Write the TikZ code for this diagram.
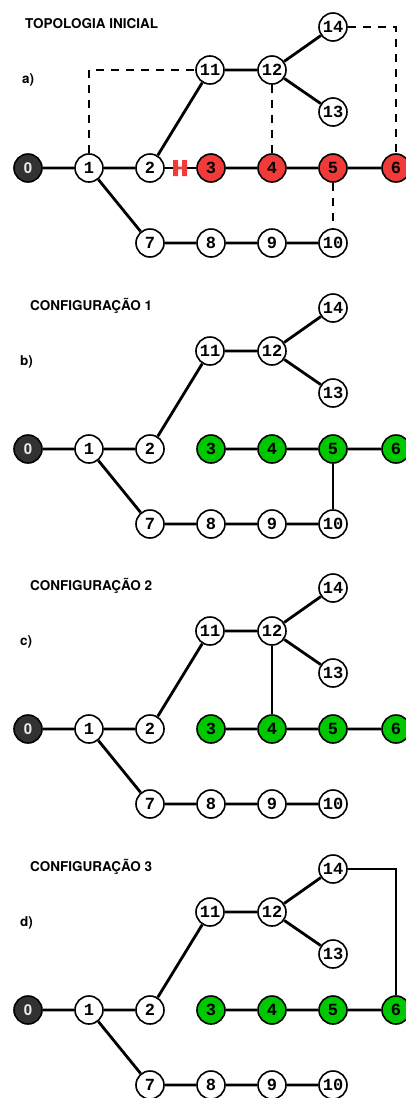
\documentclass[tikz,border=0pt]{standalone}
\usepackage{fontspec}
\setmainfont{TeX Gyre Heros}
\newfontfamily\monofont{Liberation Mono}
\definecolor{redn}{RGB}{243,58,58}
\definecolor{greenn}{RGB}{0,200,0}
\definecolor{darkn}{RGB}{50,50,50}
\tikzset{
  bus/.style={circle,draw=black,line width=1.6pt,minimum size=28pt,inner sep=0pt,fill=white,font=\monofont\bfseries\fontsize{17}{17}\selectfont},
  src/.style={bus,fill=darkn,text=black!8,font=\bfseries\fontsize{15}{15}\selectfont},
  edge/.style={line width=2.8pt},
  tie/.style={line width=2.8pt,dash pattern=on 8pt off 7pt},
  ttl/.style={anchor=west,font=\bfseries\fontsize{13.5}{14}\selectfont,inner sep=0pt},
  lbl/.style={anchor=west,font=\bfseries\fontsize{13.5}{14}\selectfont,inner sep=0pt},
}
\newcommand{\drawpanel}[3]{%
  % #1 prefix, #2 colour of 3-6, #3 y offset
  \begin{scope}[yshift=-#3pt]
  \node[src] (#10) at (28,-168) {0};
  \node[bus] (#11) at (89,-168) {1};
  \node[bus] (#12) at (150,-168) {2};
  \node[bus,fill=#2] (#13) at (211,-168) {3};
  \node[bus,fill=#2] (#14) at (272,-168) {4};
  \node[bus,fill=#2] (#15) at (333,-168) {5};
  \node[bus,fill=#2] (#16) at (396,-168) {6};
  \node[bus] (#111) at (210,-70) {11};
  \node[bus] (#112) at (272,-70) {12};
  \node[bus] (#114) at (333,-27) {14};
  \node[bus] (#113) at (333,-112) {13};
  \node[bus] (#17) at (150,-243) {7};
  \node[bus] (#18) at (211,-243) {8};
  \node[bus] (#19) at (272,-243) {9};
  \node[bus] (#110) at (333,-243) {10};
  \coordinate (#1c) at (396,-27);
  \begin{scope}[on background layer]
  \draw[edge] (#10) -- (#11) (#11) -- (#12) (#12) -- (#111) (#111) -- (#112)
    (#112) -- (#114) (#112) -- (#113) (#11) -- (#17) (#17) -- (#18) (#18) -- (#19)
    (#19) -- (#110) (#13) -- (#14) (#14) -- (#15) (#15) -- (#16);
  \end{scope}
  \end{scope}}
\usetikzlibrary{backgrounds}
\begin{document}
\begin{tikzpicture}[x=1pt,y=1pt]
\path[use as bounding box] (0,0) rectangle (406,-1098);
% panel a
\drawpanel{a}{redn}{0}
\node[ttl] (ta) at (25,-24) {TOPOLOGIA INICIAL};
\node[lbl] (la) at (22,-80) {a)};
\begin{scope}[on background layer]
\draw[edge] (a2) -- (a3);
\draw[tie] (a1.north) |- (a11);
\draw[tie] (a12) -- (a4);
\draw[tie] (a14) -- (ac) -- (a6);
\draw[tie] (a5) -- (a10);
\end{scope}
\fill[redn] (173,-160) rectangle (178,-176) (182,-160) rectangle (187,-176) (178,-166.6) rectangle (182,-169.4);
% panel b
\drawpanel{b}{greenn}{281}
\node[ttl] (tb) at (30,-306) {CONFIGURAÇÃO 1};
\node[lbl] (lb) at (20,-362) {b)};
\begin{scope}[on background layer]
\draw[edge] (b5) -- (b10);
\end{scope}
% panel c
\drawpanel{c}{greenn}{561}
\node[ttl] (tc) at (30,-586) {CONFIGURAÇÃO 2};
\node[lbl] (lc) at (20,-642) {c)};
\begin{scope}[on background layer]
\draw[edge] (c12) -- (c4);
\end{scope}
% panel d
\drawpanel{d}{greenn}{842}
\node[ttl] (td) at (30,-867) {CONFIGURAÇÃO 3};
\node[lbl] (ld) at (20,-923) {d)};
\begin{scope}[on background layer]
\draw[edge] (d14) -- (dc) -- (d6);
\end{scope}
\end{tikzpicture}
\end{document}
